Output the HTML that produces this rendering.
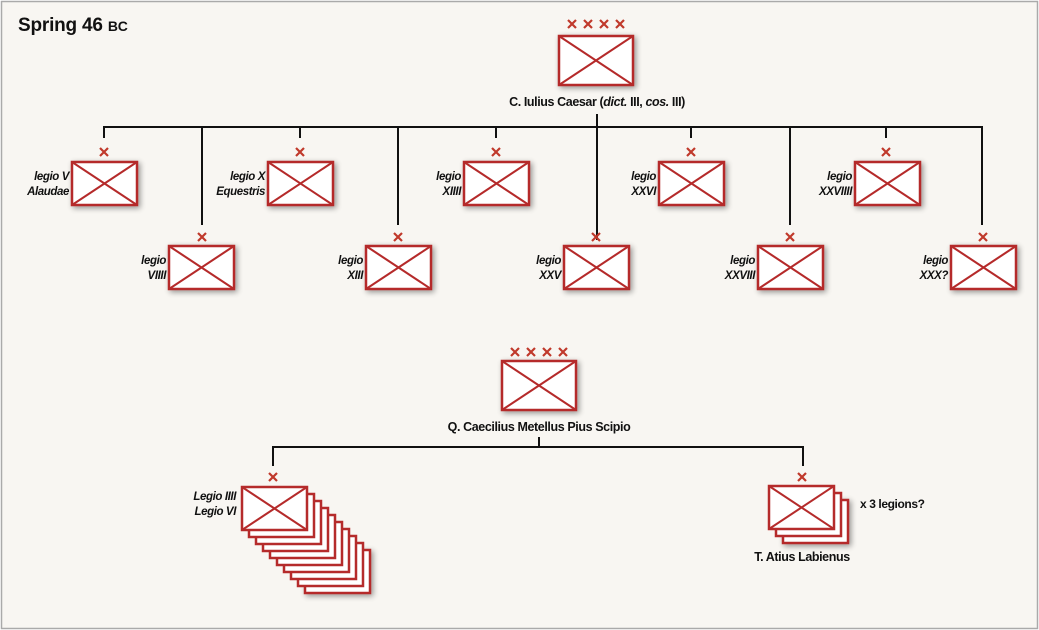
<!DOCTYPE html>
<html><head><meta charset="utf-8"><style>
body{margin:0;background:#fff;}
svg{display:block;}
text{font-family:"Liberation Sans Narrow","Liberation Sans",sans-serif;font-weight:bold;fill:#111;letter-spacing:-0.4px;}
.it{font-style:italic;}
</style></head><body>
<svg width="1039" height="630" viewBox="0 0 1039 630" xmlns="http://www.w3.org/2000/svg">
<defs>
<filter id="sh" x="-30%" y="-30%" width="160%" height="160%"><feGaussianBlur in="SourceAlpha" stdDeviation="3"/><feOffset dx="2" dy="2"/><feComponentTransfer><feFuncA type="linear" slope="0.4"/></feComponentTransfer><feMerge><feMergeNode/><feMergeNode in="SourceGraphic"/></feMerge></filter>
<g id="b"><rect x="0" y="0" width="65" height="43" fill="#fff" stroke="#b52b2b" stroke-width="2.5"/><path d="M0 0L65 43M65 0L0 43" stroke="#b52b2b" stroke-width="2"/></g>
<g id="bb"><rect x="0" y="0" width="74" height="49" fill="#fff" stroke="#b52b2b" stroke-width="2.5"/><path d="M0 0L74 49M74 0L0 49" stroke="#b52b2b" stroke-width="2"/></g>
<g id="bp"><rect x="0" y="0" width="65" height="43" fill="#fff" stroke="#b52b2b" stroke-width="2.5"/></g>
<path id="x" d="M-4 -4L4 4M4 -4L-4 4" stroke="#c0392b" stroke-width="2.2"/>
</defs>
<rect x="1.5" y="1.5" width="1036" height="627" fill="#f8f6f2" stroke="#aaa" stroke-width="1.5"/>
<text x="18" y="31" font-size="19" style="font-family:'Liberation Sans',sans-serif;letter-spacing:-0.2px">Spring 46 <tspan font-size="14">BC</tspan></text>

<g fill="none" stroke="#c0392b" stroke-width="2.2">
<path d="M568 20l8 8M576 20l-8 8M584 20l8 8M592 20l-8 8M600 20l8 8M608 20l-8 8M616 20l8 8M624 20l-8 8"/>
</g>
<use href="#bb" x="559" y="36" filter="url(#sh)"/>
<text x="597" y="106" font-size="12.5" text-anchor="middle">C. Iulius Caesar (<tspan class="it">dict.</tspan> III, <tspan class="it">cos.</tspan> III)</text>
<g stroke="#111" stroke-width="2" fill="none">
<path d="M597 114V240"/>
<path d="M104 138V127H982V225"/>
<path d="M300 127V138M496 127V138M691 127V138M886 127V138"/>
<path d="M202 127V225M398 127V225M790 127V225"/>
</g>
<g filter="url(#sh)">
<use href="#b" x="72" y="162"/><use href="#b" x="268" y="162"/><use href="#b" x="464" y="162"/><use href="#b" x="659" y="162"/><use href="#b" x="855" y="162"/>
<use href="#b" x="169" y="246"/><use href="#b" x="366" y="246"/><use href="#b" x="564" y="246"/><use href="#b" x="758" y="246"/><use href="#b" x="951" y="246"/>
</g>
<use href="#x" x="104" y="152"/><use href="#x" x="300" y="152"/><use href="#x" x="496" y="152"/><use href="#x" x="691" y="152"/><use href="#x" x="886" y="152"/>
<use href="#x" x="202" y="237"/><use href="#x" x="398" y="237"/><use href="#x" x="596" y="237"/><use href="#x" x="790" y="237"/><use href="#x" x="983" y="237"/>
<g font-size="11.5" text-anchor="end">
<text x="69" y="180" class="it">legio V</text><text x="69" y="195" class="it">Alaudae</text>
<text x="265" y="180" class="it">legio X</text><text x="265" y="195" class="it">Equestris</text>
<text x="461" y="180" class="it">legio</text><text x="461" y="195" class="it">XIIII</text>
<text x="656" y="180" class="it">legio</text><text x="656" y="195" class="it">XXVI</text>
<text x="852" y="180" class="it">legio</text><text x="852" y="195" class="it">XXVIIII</text>
<text x="166" y="264" class="it">legio</text><text x="166" y="279" class="it">VIIII</text>
<text x="363" y="264" class="it">legio</text><text x="363" y="279" class="it">XIII</text>
<text x="561" y="264" class="it">legio</text><text x="561" y="279" class="it">XXV</text>
<text x="755" y="264" class="it">legio</text><text x="755" y="279" class="it">XXVIII</text>
<text x="948" y="264" class="it">legio</text><text x="948" y="279" class="it">XXX?</text>
</g>

<g fill="none" stroke="#c0392b" stroke-width="2.2">
<path d="M511 348l8 8M519 348l-8 8M527 348l8 8M535 348l-8 8M543 348l8 8M551 348l-8 8M559 348l8 8M567 348l-8 8"/>
</g>
<use href="#bb" x="502" y="361" filter="url(#sh)"/>
<text x="539" y="431" font-size="12.5" text-anchor="middle">Q. Caecilius Metellus Pius Scipio</text>
<g stroke="#111" stroke-width="2" fill="none">
<path d="M539 437V447M273 466V447H803V466"/>
</g>
<g filter="url(#sh)">
<use href="#bp" x="305" y="550"/>
</g>
<use href="#bp" x="298" y="543"/><use href="#bp" x="291" y="536"/><use href="#bp" x="284" y="529"/><use href="#bp" x="277" y="522"/><use href="#bp" x="270" y="515"/><use href="#bp" x="263" y="508"/><use href="#bp" x="256" y="501"/><use href="#bp" x="249" y="494"/>
<use href="#b" x="242" y="487"/>
<use href="#x" x="273" y="477"/>
<text x="236" y="500" font-size="11.5" text-anchor="end" class="it">Legio IIII</text>
<text x="236" y="515" font-size="11.5" text-anchor="end" class="it">Legio VI</text>

<use href="#bp" x="783" y="500" filter="url(#sh)"/>
<use href="#bp" x="776" y="493"/>
<use href="#b" x="769" y="486"/>
<use href="#x" x="802" y="477"/>
<text x="860" y="508" font-size="12">x 3 legions?</text>
<text x="802" y="561" font-size="12.5" text-anchor="middle">T. Atius Labienus</text>
</svg>
</body></html>
